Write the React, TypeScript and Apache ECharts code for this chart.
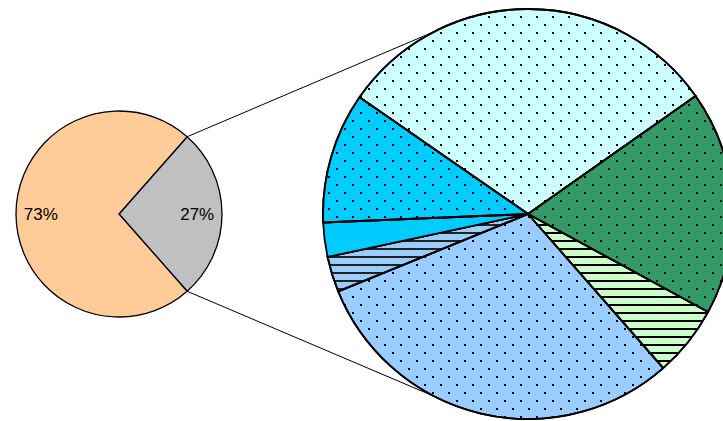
import React, { useEffect, useRef } from "react";
import * as echarts from "echarts";

// Primary pie (share of total, %)
const mainCategories = ["Detail", "Rest"];
const mainValues = [27, 73];
const mainColors = ["#C0C0C0", "#FFCC99"];

// Secondary pie (breakdown, %)
const detailCategories = ["S1", "S2", "S3", "S4", "S5", "S6", "S7"];
const detailValues = [30.6, 17.7, 5.6, 30.3, 2.8, 2.7, 10.3];
const detailColors = ["#CCFFFF", "#339966", "#CCFFCC", "#99CCFF", "#99CCFF", "#00CCFF", "#00CCFF"];
const detailPatterns = ["dots", "dots", "hlines", "dots", "hlines", "none", "dots"];
const hatchColors = ["#000", "#000", "#000", "#000", "#222", "#000", "#000"];

// layout
const LEFT = { cx: 119, cy: 214, r: 103 };
const RIGHT = { cx: 528, cy: 214, r: 205 };
const RIGHT_START = 145.3;
const CONNECT_ANGLE = 117;

function decalFor(kind: string, color: string): any {
  if (kind === "dots") {
    return {
      symbol: "rect",
      symbolSize: 1,
      color,
      dashArrayX: [[2, 14], [0, 8, 2, 6]],
      dashArrayY: [2, 6],
    };
  }
  if (kind === "hlines") {
    return {
      symbol: "rect",
      symbolSize: 1,
      color,
      dashArrayX: [[16, 0]],
      dashArrayY: [2, 6],
    };
  }
  return undefined;
}

export default function App() {
  const ref = useRef<HTMLDivElement>(null);
  useEffect(() => {
    if (!ref.current) return;
    const chart = echarts.init(ref.current, undefined, { renderer: "svg" });
    const total = mainValues.reduce((a, b) => a + b, 0);
    const half = (mainValues[0] / total) * 180;
    const rad = Math.PI / 180;
    const lx = LEFT.cx + LEFT.r * Math.cos(half * rad);
    const lyTop = LEFT.cy - LEFT.r * Math.sin(half * rad);
    const lyBot = LEFT.cy + LEFT.r * Math.sin(half * rad);
    const rx = RIGHT.cx + RIGHT.r * Math.cos(CONNECT_ANGLE * rad);
    const ryTop = RIGHT.cy - RIGHT.r * Math.sin(CONNECT_ANGLE * rad);
    const ryBot = RIGHT.cy + RIGHT.r * Math.sin(CONNECT_ANGLE * rad);

    const mainData = mainCategories.map((name, i) => ({
      name,
      value: mainValues[i],
      itemStyle: { color: mainColors[i] },
    }));
    const detailData = detailCategories.map((name, i) => {
      const d = decalFor(detailPatterns[i], hatchColors[i]);
      return {
        name,
        value: detailValues[i],
        itemStyle: d ? { color: detailColors[i], decal: d } : { color: detailColors[i] },
      };
    });

    chart.setOption({
      animation: false,
      backgroundColor: "#ffffff",
      graphic: [
        {
          type: "line",
          z: 1,
          shape: { x1: lx, y1: lyTop, x2: rx, y2: ryTop },
          style: { stroke: "#000", lineWidth: 1 },
          silent: true,
        },
        {
          type: "line",
          z: 1,
          shape: { x1: lx, y1: lyBot, x2: rx, y2: ryBot },
          style: { stroke: "#000", lineWidth: 1 },
          silent: true,
        },
      ],
      series: [
        {
          type: "pie",
          center: [LEFT.cx, LEFT.cy],
          radius: [0, LEFT.r],
          startAngle: half,
          clockwise: true,
          silent: true,
          emphasis: { disabled: true },
          itemStyle: { borderColor: "#000", borderWidth: 1.3 },
          label: { show: false },
          labelLine: { show: false },
          data: mainData,
          z: 3,
        },
        {
          type: "pie",
          center: [LEFT.cx, LEFT.cy],
          radius: [0, LEFT.r * 1.46],
          startAngle: half,
          clockwise: true,
          silent: true,
          emphasis: { disabled: true },
          itemStyle: { color: "rgba(0,0,0,0)", borderWidth: 0 },
          label: {
            show: true,
            position: "inside",
            formatter: (p: any) => p.value + "%",
            color: "#000",
            fontSize: 17,
            fontFamily: "'Liberation Sans', Arial, sans-serif",
          },
          labelLine: { show: false },
          data: mainCategories.map((name, i) => ({ name, value: mainValues[i] })),
          z: 4,
        },
        {
          type: "pie",
          center: [RIGHT.cx, RIGHT.cy],
          radius: [0, RIGHT.r],
          startAngle: RIGHT_START,
          clockwise: true,
          silent: true,
          emphasis: { disabled: true },
          itemStyle: { borderColor: "#000", borderWidth: 1.8 },
          label: { show: false },
          labelLine: { show: false },
          data: detailData,
          z: 3,
        },
      ],
    });
    return () => chart.dispose();
  }, []);
  return (
    <div
      ref={ref}
      style={{ position: "absolute", left: 0, top: 0, width: 723, height: 421 }}
    />
  );
}
